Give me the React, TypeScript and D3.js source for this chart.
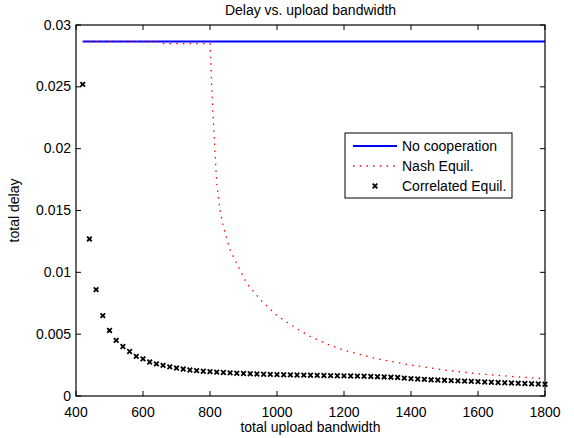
import React, { useEffect, useRef } from "react";
import * as d3 from "d3";

// bandwidth samples for the correlated equilibrium markers (every 20)
const corrX = d3.range(420, 1801, 20);
const corrY = [
  0.0252, 0.0127, 0.0086, 0.0065, 0.0053, 0.0045, 0.004, 0.0036, 0.0032, 0.003,
  0.00275, 0.0026, 0.00248, 0.00236, 0.00226, 0.00218, 0.0021, 0.00205, 0.002, 0.00197,
  0.00193, 0.0019, 0.00187, 0.00184, 0.00182, 0.0018, 0.00178, 0.00176, 0.00175, 0.00173,
  0.00172, 0.00171, 0.0017, 0.00169, 0.00168, 0.00167, 0.00166, 0.00165, 0.00164, 0.00163,
  0.00162, 0.00161, 0.0016, 0.00158, 0.00156, 0.00154, 0.00152, 0.0015, 0.00145, 0.0014,
  0.00137, 0.00134, 0.00131, 0.00129, 0.00127, 0.00124, 0.00122, 0.0012, 0.00118, 0.00116,
  0.00113, 0.00111, 0.00109, 0.00107, 0.00105, 0.00103, 0.00101, 0.00099, 0.00097, 0.00095,
];

const noCoopX = [420, 1800];
const noCoopY = [0.02866, 0.02866];

const nashX = [420, 640, 660, 700, 780, 800, 803, 806, 810, 815, 820, 830, 840, 860, 880, 910, 950, 1000, 1050, 1100, 1150, 1200, 1300, 1400, 1500, 1600, 1700, 1800];
const nashY = [0.02866, 0.02866, 0.0285, 0.0285, 0.0285, 0.0285, 0.0265, 0.0245, 0.0223, 0.0197, 0.0172, 0.015, 0.0137, 0.0118, 0.0107, 0.0091, 0.0078, 0.0065, 0.0056, 0.0048, 0.0042, 0.0037, 0.003, 0.0025, 0.0021, 0.0018, 0.00158, 0.0014];

const xTicks = [400, 600, 800, 1000, 1200, 1400, 1600, 1800];
const yTicks = [0, 0.005, 0.01, 0.015, 0.02, 0.025, 0.03];
const legendLabels = ["No cooperation", "Nash Equil.", "Correlated Equil."];

const W = 574;
const H = 438;
const FONT = "'Liberation Sans', Arial, Helvetica, sans-serif";

export default function App() {
  const ref = useRef<SVGSVGElement>(null);

  useEffect(() => {
    const svg = d3.select(ref.current);
    svg.selectAll("*").remove();

    const left = 76, right = 545, top = 25, bottom = 396;
    const x = d3.scaleLinear().domain([400, 1800]).range([left, right]);
    const y = d3.scaleLinear().domain([0, 0.03]).range([bottom, top]);
    const tl = 5;

    svg.append("rect").attr("width", W).attr("height", H).attr("fill", "#fff");

    // no cooperation
    const line = d3.line<[number, number]>()
      .x((d) => x(d[0]))
      .y((d) => y(d[1]));

    svg.append("path")
      .datum(noCoopX.map((v, i) => [v, noCoopY[i]] as [number, number]))
      .attr("d", line)
      .attr("fill", "none")
      .attr("stroke", "#0000ff")
      .attr("stroke-width", 2);

    // nash, dotted red
    svg.append("path")
      .datum(nashX.map((v, i) => [v, nashY[i]] as [number, number]))
      .attr("d", line)
      .attr("fill", "none")
      .attr("stroke", "#ff0000")
      .attr("stroke-width", 1.3)
      .attr("stroke-dasharray", "1.5 5.2");

    // correlated, x markers
    const mark = "M-2.3,-2.3L2.3,2.3M-2.3,2.3L2.3,-2.3";
    svg.append("g")
      .selectAll("path")
      .data(corrX.map((v, i) => [v, corrY[i]]))
      .join("path")
      .attr("transform", (d) => `translate(${x(d[0])},${y(d[1])})`)
      .attr("d", mark)
      .attr("stroke", "#000")
      .attr("stroke-width", 1.8);

    // box and ticks
    svg.append("rect")
      .attr("x", left).attr("y", top)
      .attr("width", right - left).attr("height", bottom - top)
      .attr("fill", "none").attr("stroke", "#000").attr("stroke-width", 1.2);

    const g = svg.append("g").attr("stroke", "#000").attr("stroke-width", 1);
    xTicks.forEach((t) => {
      g.append("line").attr("x1", x(t)).attr("x2", x(t)).attr("y1", bottom).attr("y2", bottom - tl);
      g.append("line").attr("x1", x(t)).attr("x2", x(t)).attr("y1", top).attr("y2", top + tl);
    });
    yTicks.forEach((t) => {
      g.append("line").attr("x1", left).attr("x2", left + tl).attr("y1", y(t)).attr("y2", y(t));
      g.append("line").attr("x1", right).attr("x2", right - tl).attr("y1", y(t)).attr("y2", y(t));
    });

    const txt = svg.append("g").style("font-family", FONT).style("font-size", "14px").attr("fill", "#000");
    xTicks.forEach((t) => {
      txt.append("text").attr("x", x(t)).attr("y", 416.5).attr("text-anchor", "middle").text(String(t));
    });
    yTicks.forEach((t) => {
      txt.append("text").attr("x", left - 5).attr("y", y(t) + 4.5).attr("text-anchor", "end").text(String(t));
    });

    txt.append("text").attr("x", (left + right) / 2).attr("y", 15).attr("text-anchor", "middle").text("Delay vs. upload bandwidth");
    txt.append("text").attr("x", (left + right) / 2).attr("y", 431.5).attr("text-anchor", "middle").text("total upload bandwidth");
    txt.append("text")
      .attr("transform", `translate(19,${(top + bottom) / 2}) rotate(-90)`)
      .attr("text-anchor", "middle")
      .text("total delay");

    // legend
    const lg = svg.append("g");
    lg.append("rect").attr("x", 345).attr("y", 133).attr("width", 167).attr("height", 65)
      .attr("fill", "#fff").attr("stroke", "#000").attr("stroke-width", 1);
    const rows = [146, 166, 186];
    lg.append("line").attr("x1", 353).attr("x2", 397).attr("y1", rows[0]).attr("y2", rows[0])
      .attr("stroke", "#0000ff").attr("stroke-width", 2);
    lg.append("line").attr("x1", 353).attr("x2", 397).attr("y1", rows[1]).attr("y2", rows[1])
      .attr("stroke", "#ff0000").attr("stroke-width", 1.3).attr("stroke-dasharray", "1.5 5.2");
    lg.append("path").attr("transform", `translate(375,${rows[2]})`).attr("d", mark)
      .attr("stroke", "#000").attr("stroke-width", 1.8);
    legendLabels.forEach((l, i) => {
      lg.append("text").attr("x", 402).attr("y", rows[i] + 5)
        .style("font-family", FONT).style("font-size", "14px").text(l);
    });
  }, []);

  return (
    <svg
      ref={ref}
      width={W}
      height={H}
      style={{ position: "absolute", left: 0, top: 0, display: "block" }}
    />
  );
}
